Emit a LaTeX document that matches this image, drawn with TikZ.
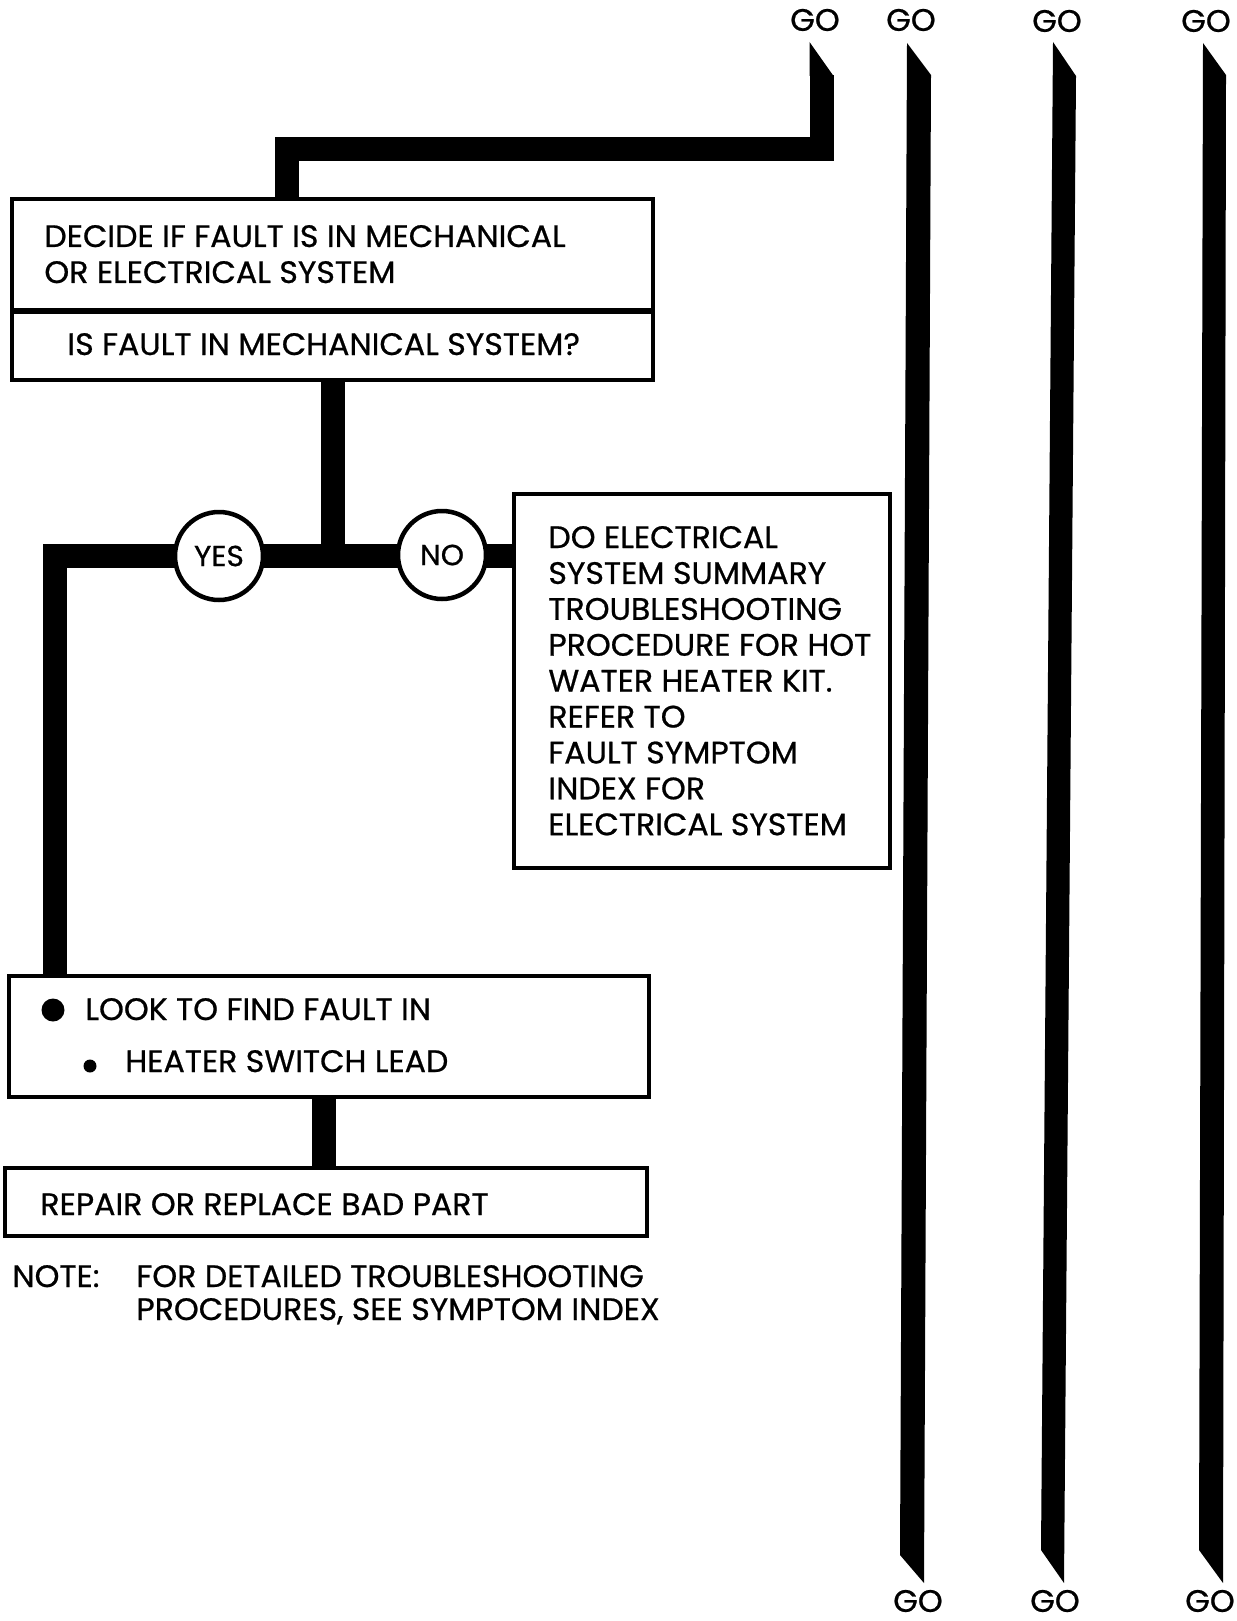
\documentclass[tikz,border=0pt]{standalone}
\usepackage{fontspec}
\setmainfont{Poppins}[FakeStretch=1.02,FakeBold=0.7]
\begin{document}
\begin{tikzpicture}[x=0.5pt,y=-0.5pt,
  box/.style={draw, line width=1.75pt, inner sep=0pt, outer sep=0pt, anchor=north west},
  txt/.style={anchor=base west, inner sep=0pt, font=\fontsize{15.5}{18}\selectfont},
  gotxt/.style={anchor=center, inner sep=0pt, font=\fontsize{15.5}{18}\selectfont},
  bar/.style={line width=12pt, line join=miter},
  ans/.style={circle, draw, line width=2.25pt, fill=white, minimum size=44pt, inner sep=0pt, font=\fontsize{14.5}{17}\selectfont},
  dotb/.style={circle, fill=black, inner sep=0pt}]
\useasboundingbox (0,0) rectangle (1236,1621);
\fill[white] (0,0) rectangle (1236,1621);

% GO labels
\node[gotxt] (go1) at (815,20) {GO};
\node[gotxt] (go2) at (911,20) {GO};
\node[gotxt] (go3) at (1057,21) {GO};
\node[gotxt] (go4) at (1206,21) {GO};
\node[gotxt] (gb2) at (918,1601) {GO};
\node[gotxt] (gb3) at (1055,1601) {GO};
\node[gotxt] (gb4) at (1210,1601) {GO};

% boxes
\node[box, minimum width=320.5pt, minimum height=56pt] (dec) at (12,199) {};
\node[box, minimum width=320.5pt, minimum height=34.5pt] (q) at (12,311) {};
\draw[line width=3.2pt] (q.north west) -- (q.north east);
\node[box, minimum width=188pt, minimum height=187pt] (elec) at (514,494) {};
\node[box, minimum width=320pt, minimum height=60.5pt] (look) at (9,976) {};
\node[box, minimum width=321pt, minimum height=34pt] (rep) at (5,1168) {};

% texts
\node[txt] (t1) at (44,247) {DECIDE IF FAULT IS IN MECHANICAL};
\node[txt] (t2) at (44,283) {OR ELECTRICAL SYSTEM};
\node[txt] (t3) at (67,355) {IS FAULT IN MECHANICAL SYSTEM?};
\foreach \s [count=\k from 0] in {DO ELECTRICAL,SYSTEM SUMMARY,TROUBLESHOOTING,PROCEDURE FOR HOT,WATER HEATER KIT.,REFER TO,FAULT SYMPTOM,INDEX FOR,ELECTRICAL SYSTEM}
  \node[txt] (e\k) at (548,548+35.9*\k) {\s};
\node[dotb, minimum size=11.5pt] (b1) at (53,1010) {};
\node[txt] (l1) at (85,1020) {LOOK TO FIND FAULT IN};
\node[dotb, minimum size=6.5pt] (b2) at (90,1066) {};
\node[txt] (l2) at (125,1072) {HEATER SWITCH LEAD};
\node[txt] (r1) at (40,1215) {REPAIR OR REPLACE BAD PART};
\node[txt] (n0) at (12,1287) {NOTE:};
\node[txt] (n1) at (136,1287) {FOR DETAILED TROUBLESHOOTING};
\node[txt] (n2) at (136,1320) {PROCEDURES, SEE SYMPTOM INDEX};

% connectors
\coordinate (c1) at (286.5,149);
\coordinate (c2) at (821.5,149);
\coordinate (c3) at (821.5,75);
\draw[bar] (dec.north -| c1) -- (c1) -- (c2) -- (c3);
\fill (809.5,76) -- (809.5,42) -- (833.5,76) -- cycle;

\coordinate (jn) at (332.5,555.5);
\coordinate (lc) at (54.5,555.5);
\draw[bar] (q.south -| jn) -- (jn);
\draw[bar] (elec.west |- jn) -- (lc) -- (lc |- look.north);
\coordinate (lr) at (324,0);
\draw[bar] (look.south -| lr) -- (rep.north -| lr);

\node[ans] (yes) at (219,556) {YES};
\node[ans] (no) at (442,555) {NO};

% long GO bars
\fill (907,43) -- (931,75) -- (924,1583) -- (900,1555) -- cycle;
\fill (1053,42) -- (1076,76) -- (1064,1583) -- (1041,1550) -- cycle;
\fill (1203,43) -- (1226,75) -- (1223,1583) -- (1199,1550) -- cycle;
\end{tikzpicture}
\end{document}
